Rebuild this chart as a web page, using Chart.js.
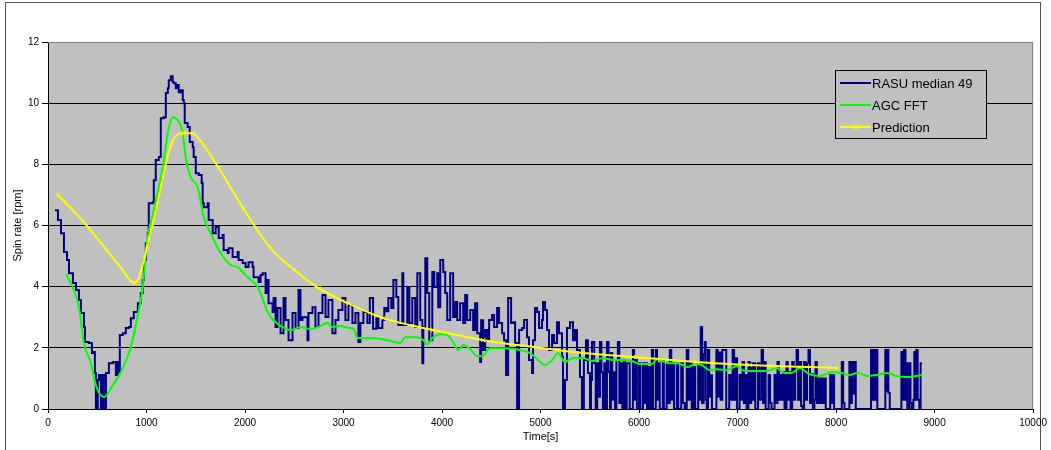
<!DOCTYPE html>
<html>
<head>
<meta charset="utf-8">
<script src="https://cdn.jsdelivr.net/npm/chart.js@4.4.0/dist/chart.umd.min.js"></script>
<style>
body{margin:0;background:#fff}
</style>
</head>
<body>
<canvas id="chart" width="1051" height="450"></canvas>
<script>
// series names as shown in the legend
const seriesNames = ["RASU median 49", "AGC FFT", "Prediction"];

// [time s, spin rate rpm]
const rasuPoints = [
[71,6.50],[101,6.18],[132,5.75],[162,5.13],[193,4.87],[213,4.44],[253,4.12],[284,3.89],[314,3.56],[334,3.14],
[365,2.68],[375,2.19],[415,2.16],[446,1.83],[466,1.86],[476,1.18],[486,0],[506,0.95],[517,1.11],[537,0],
[557,1.11],[567,0],[588,1.18],[608,1.18],[618,1.50],[659,1.54],[689,1.11],[709,1.54],[719,1.18],[729,2.42],
[760,2.48],[790,2.65],[821,2.68],[841,2.97],[871,3.17],[912,3.46],[942,3.79],[962,4.22],[973,4.87],[993,5.42],
[1013,5.75],[1023,6.73],[1064,6.76],[1074,7.48],[1094,8.14],[1125,8.24],[1145,9.51],[1175,9.54],[1196,10.33],[1216,10.49],
[1226,10.75],[1246,10.88],[1266,10.69],[1277,10.65],[1297,10.49],[1317,10.59],[1327,10.36],[1348,10.42],[1368,10.10],[1378,10.0],
[1388,9.35],[1418,9.22],[1439,8.73],[1469,8.56],[1479,8.24],[1500,7.71],[1530,7.65],[1560,7.39],[1570,6.73],[1581,6.60],
[1621,6.73],[1631,6.18],[1672,5.75],[1702,5.95],[1733,5.59],[1773,5.69],[1783,5.20],[1824,5.10],[1834,5.26],[1874,4.97],
[1925,5.13],[1935,4.87],[1976,4.77],[2006,4.64],[2036,4.80],[2077,4.64],[2087,4.31],[2138,4.15],[2158,4.38],[2178,4.44],
[2209,3.79],[2229,4.22],[2239,3.46],[2280,3.17],[2290,3.63],[2310,2.68],[2330,3.30],[2361,2.48],[2391,3.63],[2411,2.91],
[2442,2.25],[2482,3.14],[2513,2.65],[2543,3.89],[2563,2.91],[2583,3.00],[2634,2.25],[2644,3.14],[2685,3.33],[2715,2.68],
[2746,3.14],[2786,3.73],[2817,3.01],[2847,3.56],[2887,2.48],[2918,2.91],[2948,3.24],[2989,3.63],[3019,2.91],[3050,3.40],
[3090,2.81],[3121,3.14],[3151,2.19],[3171,2.81],[3202,3.17],[3242,2.81],[3267,3.63],[3300,2.62],[3333,2.97],[3354,2.65],
[3394,2.91],[3414,3.30],[3435,3.20],[3455,3.63],[3485,3.30],[3506,4.22],[3536,3.66],[3556,2.75],[3597,4.44],[3607,2.75],
[3647,3.99],[3668,2.81],[3698,3.63],[3728,2.68],[3749,4.44],[3779,2.91],[3800,1.50],[3810,2.68],[3830,4.93],[3850,3.79],
[3870,2.25],[3901,4.48],[3921,3.99],[3951,4.44],[3961,3.33],[3982,4.87],[4012,4.48],[4032,3.79],[4053,2.91],[4083,4.44],
[4113,3.01],[4134,3.50],[4154,2.91],[4184,3.46],[4215,2.81],[4235,3.73],[4255,2.91],[4286,3.24],[4316,2.58],[4336,3.46],
[4357,2.48],[4387,1.54],[4397,2.90],[4417,1.93],[4438,2.58],[4458,2.25],[4478,2.91],[4508,3.07],[4529,2.68],[4559,3.30],
[4579,2.81],[4610,2.48],[4630,2.25],[4650,1.11],[4671,3.63],[4701,2.81],[4722,2.84],[4742,2.16],[4762,0],[4782,2.58],
[4813,2.65],[4833,2.91],[4863,2.35],[4883,1.60],[4914,1.18],[4924,2.25],[4944,3.30],[4965,3.17],[4985,2.65],[5015,2.91],
[5025,3.50],[5046,3.24],[5066,2.58],[5086,1.93],[5117,2.42],[5137,2.16],[5167,2.84],[5187,2.48],[5218,1.70],[5228,0],
[5248,0.95],[5268,2.65],[5299,2.84],[5329,2.25],[5350,2.58],[5370,1.93],[5400,1.05],[5420,0],[5440,1.60],[5461,2.25],
[5481,1.18],[5502,0],[5512,0.95],[5522,2.19],[5530,2.19],[5545,1.50],[5560,0],[5575,1.50],[5590,0.40],[5603,2.19],
[5618,1.20],[5633,0],[5648,1.50],[5660,0],[5674,2.19],[5690,1.20],[5705,0],[5714,1.83],[5728,0.30],[5742,1.20],
[5756,0],[5770,1.60],[5785,2.19],[5800,0.20],[5815,1.50],[5830,0],[5845,1.60],[5860,0],[5875,1.50],[5890,1.50],
[5905,0],[5920,0],[5937,1.93],[5950,0.30],[5965,1.60],[5978,0],[5990,0],[6000,1.50],[6014,0],[6028,0],
[6040,1.50],[6055,0.20],[6068,1.50],[6080,0],[6095,1.37],[6110,0],[6130,1.93],[6142,0],[6155,0],[6170,1.93],
[6182,0.30],[6195,1.50],[6210,0],[6225,0],[6241,1.60],[6252,0],[6265,0],[6280,1.50],[6295,0.20],[6312,1.93],
[6327,0.30],[6342,1.50],[6355,0],[6370,0],[6383,1.50],[6398,0],[6413,0],[6428,1.50],[6444,0.20],[6464,0],
[6484,1.93],[6500,0.30],[6515,1.50],[6535,0],[6555,1.37],[6570,0],[6586,0],[6600,1.50],[6615,0.30],[6626,2.68],
[6640,0.20],[6655,1.80],[6667,2.19],[6677,0.30],[6687,0],[6700,1.93],[6712,0.40],[6728,1.10],[6740,0],[6768,0],
[6785,1.93],[6798,0.40],[6812,1.85],[6828,0.30],[6845,1.93],[6869,1.93],[6885,0],[6900,0],[6915,1.11],[6930,0.30],
[6950,1.93],[6965,0.30],[6980,1.66],[6995,0],[7005,0],[7020,1.11],[7035,0.30],[7050,1.54],[7065,0.20],[7080,1.11],
[7092,0],[7110,1.54],[7123,0.20],[7138,1.50],[7152,0.30],[7165,1.50],[7180,0],[7194,0],[7208,1.50],[7222,0.30],
[7244,1.93],[7258,0.20],[7270,1.54],[7285,0],[7300,0],[7315,1.11],[7330,0.20],[7345,0],[7360,0],[7375,1.11],
[7390,0.20],[7405,1.54],[7420,0.30],[7436,1.11],[7450,0.30],[7465,1.20],[7477,0],[7497,1.54],[7510,0.30],[7525,1.20],
[7538,0],[7555,1.54],[7570,0.30],[7585,1.40],[7599,1.93],[7614,0.30],[7629,1.54],[7645,0.10],[7660,0],[7675,1.54],
[7690,0.30],[7705,1.50],[7720,1.93],[7735,0.20],[7750,1.14],[7765,0],[7780,0.30],[7791,1.54],[7805,0.20],[7820,1.00],
[7835,0.20],[7850,1.00],[7865,0.20],[7880,1.00],[7895,0],[7903,0],[7925,0],[7940,1.11],[7955,0.20],[7968,1.10],
[7980,0],[8000,0],[8020,0],[8040,0],[8058,1.54],[8072,0.20],[8085,0],[8100,0],[8120,0],[8135,1.54],
[8148,0.20],[8160,1.54],[8172,0.50],[8186,1.54],[8200,0],[8217,0],[8240,0],[8260,0],[8280,0],[8300,0],
[8320,0],[8340,0],[8355,1.93],[8368,0.30],[8380,1.93],[8392,0.30],[8405,1.93],[8419,0],[8440,0],[8460,0],
[8480,0],[8500,1.93],[8512,0.60],[8525,1.93],[8531,0.52],[8545,0],[8570,0],[8600,0],[8630,0],[8650,0],
[8663,1.86],[8676,0.30],[8690,1.93],[8705,0.30],[8713,1.50],[8723,0],[8744,1.50],[8755,0.20],[8768,0],[8785,0.30],
[8794,1.86],[8805,0.30],[8814,1.93],[8828,0.30],[8845,0],[8858,1.50],[8872,1.50]
];

const agcPoints = [
[182,4.41],[263,3.89],[314,3.33],[365,2.16],[436,1.50],[486,0.78],[567,0.39],[659,0.78],[740,1.21],[841,2.03],
[902,2.91],[962,3.99],[1003,5.42],[1074,6.50],[1165,7.91],[1216,9.02],[1266,9.54],[1317,9.44],[1368,9.02],[1398,8.24],
[1449,7.58],[1520,7.25],[1581,6.27],[1651,5.75],[1753,5.10],[1854,4.71],[1925,4.64],[2026,4.31],[2128,3.99],[2180,3.60],
[2229,3.17],[2290,2.90],[2381,2.68],[2462,2.58],[2563,2.68],[2665,2.61],[2746,2.68],[2837,2.81],[2887,2.68],[2968,2.71],
[3050,2.65],[3110,2.60],[3141,2.32],[3293,2.32],[3445,2.25],[3577,2.16],[3627,2.35],[3749,2.35],[3810,2.25],[3850,2.12],
[3901,2.32],[4002,2.45],[4050,2.42],[4113,2.19],[4164,1.93],[4215,2.09],[4286,1.96],[4357,1.73],[4407,1.73],[4488,1.99],
[4660,1.99],[4792,1.93],[4894,1.83],[4965,1.63],[5046,1.44],[5117,1.60],[5177,1.83],[5248,1.54],[5329,1.67],[5431,1.67],
[5522,1.57],[5633,1.67],[5735,1.60],[5830,1.60],[5927,1.57],[6008,1.47],[6130,1.47],[6180,1.63],[6292,1.50],[6390,1.50],
[6494,1.37],[6565,1.47],[6636,1.44],[6717,1.27],[6790,1.30],[6890,1.27],[6991,1.40],[7052,1.27],[7194,1.24],[7300,1.24],
[7396,1.34],[7477,1.18],[7550,1.18],[7629,1.34],[7730,1.14],[7832,1.08],[7963,1.21],[8055,1.18],[8136,1.11],[8217,1.18],
[8318,1.08],[8420,1.12],[8521,1.18],[8612,1.08],[8744,1.05],[8875,1.11]
];

const predictionPoints = [
[100,7.00],[355,6.14],[600,5.18],[719,4.71],[881,4.12],[1054,5.95],[1256,8.69],[1378,9.02],[1469,9.02],[1550,8.76],
[1733,7.88],[1986,6.54],[2259,5.26],[2500,4.55],[2746,3.95],[3050,3.45],[3404,2.97],[3911,2.58],[4417,2.25],[4924,2.03],
[5431,1.83],[5937,1.70],[6586,1.54],[7123,1.44],[8014,1.34]
];

const seriesColors = ["#000080", "#00ff00", "#ffff00"];
const FONT = "'Liberation Sans', Arial, sans-serif";

function toXY(arr){
return arr.map(p=>({x:p[0], y:p[1]}));
}

const framePlugin = {
id: "frame",
beforeDraw(chart){
const ctx = chart.ctx, a = chart.chartArea;
ctx.save();
ctx.fillStyle = "#fff";
ctx.fillRect(0, 0, chart.width, chart.height);
ctx.fillStyle = "#c0c0c0";
ctx.fillRect(a.left, a.top, a.right - a.left, a.bottom - a.top);
ctx.strokeStyle = "#555";
ctx.lineWidth = 1;
ctx.strokeRect(5.5, 2.5, 1035, 470);
ctx.restore();
},
beforeDatasetsDraw(chart){
const ctx = chart.ctx, a = chart.chartArea;
ctx.save();
ctx.strokeStyle = "#808080";
ctx.lineWidth = 1;
ctx.beginPath();
ctx.moveTo(a.left, a.top + 0.5);
ctx.lineTo(a.right - 0.5, a.top + 0.5);
ctx.lineTo(a.right - 0.5, a.bottom);
ctx.stroke();
ctx.restore();
},
afterDraw(chart){
const ctx = chart.ctx;
const bx = 835.5, by = 70.5, bw = 151, bh = 68;
ctx.save();
ctx.fillStyle = "#c0c0c0";
ctx.fillRect(bx, by, bw, bh);
ctx.strokeStyle = "#000";
ctx.lineWidth = 1;
ctx.strokeRect(bx, by, bw, bh);
const rows = [83, 105, 127];
ctx.font = "13px " + FONT;
ctx.textBaseline = "middle";
chart.data.datasets.forEach((ds, i)=>{
const y = rows[i];
ctx.strokeStyle = ds.borderColor;
ctx.lineWidth = 2;
ctx.beginPath();
ctx.moveTo(840, y);
ctx.lineTo(871, y);
ctx.stroke();
if(ds.pointRadius > 0){
ctx.lineWidth = 1;
ctx.beginPath();
ctx.moveTo(853, y - 3); ctx.lineTo(859, y + 3);
ctx.moveTo(859, y - 3); ctx.lineTo(853, y + 3);
ctx.stroke();
}
ctx.fillStyle = "#000";
ctx.fillText(ds.label, 872, y + 1);
});
ctx.restore();
}
};

new Chart(document.getElementById("chart"), {
type: "line",
data: {
datasets: [
{label: seriesNames[0], data: toXY(rasuPoints), borderColor: seriesColors[0], borderWidth: 2, pointRadius: 0, stepped: true, order: 3},
{label: seriesNames[1], data: toXY(agcPoints), borderColor: seriesColors[1], borderWidth: 2, pointRadius: 0, cubicInterpolationMode: "monotone", order: 2},
{label: seriesNames[2], data: toXY(predictionPoints), borderColor: seriesColors[2], borderWidth: 2, pointRadius: 3, pointStyle: "crossRot", pointBorderColor: seriesColors[2], pointBorderWidth: 1, cubicInterpolationMode: "monotone", order: 1}
]
},
options: {
responsive: false,
animation: false,
devicePixelRatio: 1,
layout: {padding: {left: 0, right: 17, top: 42, bottom: 0}},
plugins: {legend: {display: false}, tooltip: {enabled: false}},
scales: {
x: {
type: "linear",
min: 0, max: 10000,
ticks: {stepSize: 1000, color: "#000", font: {family: FONT, size: 10}, padding: 4, maxRotation: 0, callback: v => String(v)},
grid: {drawOnChartArea: false, tickLength: 4, tickColor: "#000"},
border: {color: "#000", width: 1},
title: {display: true, text: "Time[s]", color: "#000", font: {family: FONT, size: 11}, padding: {top: 0, bottom: 6}},
afterFit(s){ s.height = 41; }
},
y: {
min: 0, max: 12,
ticks: {stepSize: 2, color: "#000", font: {family: FONT, size: 10}, padding: 3, callback: v => String(v)},
grid: {color: c => c.tick && c.tick.value === 12 ? "rgba(0,0,0,0)" : "#000", tickLength: 6, tickColor: "#000"},
border: {color: "#000", width: 1},
title: {display: true, text: "Spin rate [rpm]", color: "#000", font: {family: FONT, size: 11}, padding: {top: 11, bottom: 0}},
afterFit(s){ s.width = 48; }
}
}
},
plugins: [framePlugin]
});
</script>
</body>
</html>
